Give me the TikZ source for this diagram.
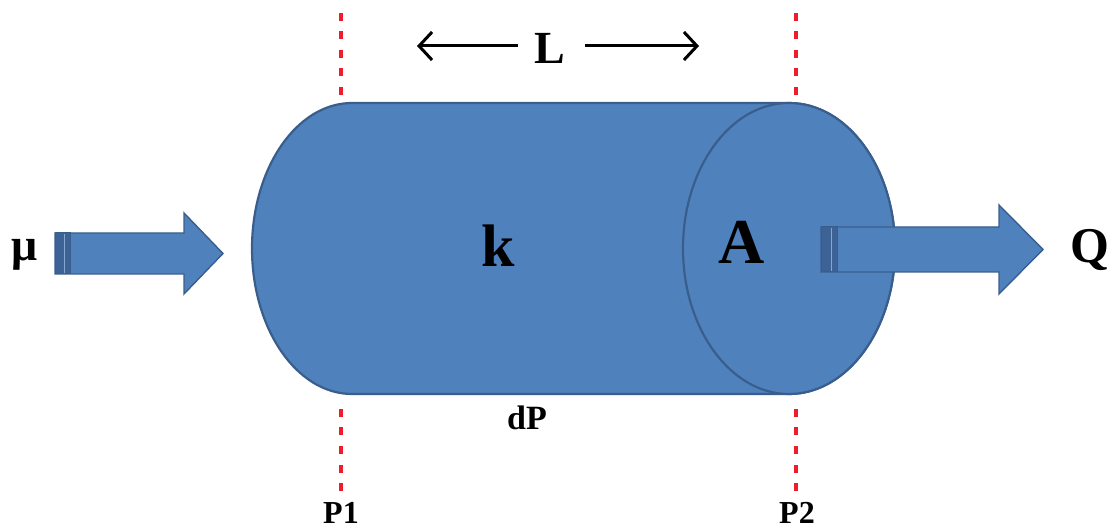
\documentclass[tikz,border=0pt]{standalone}
\usepackage{fontspec}
\setmainfont{Liberation Serif}
\usetikzlibrary{arrows.meta}
\definecolor{pipefill}{HTML}{4F81BD}
\definecolor{pipeedge}{HTML}{3A5E8C}
\definecolor{tailband}{HTML}{3D6396}
\definecolor{cutred}{HTML}{F01C2C}
\tikzset{
  body/.style={fill=pipefill, draw=pipeedge, line width=2.2pt, line join=round},
  blockarrow/.style={fill=pipefill, draw=pipeedge, line width=1.4pt, line join=miter},
  tailstrip/.style={fill=tailband, draw=pipeedge, line width=1pt},
  cutline/.style={draw=cutred, line width=3.6pt, dash pattern=on 8pt off 10.5pt},
  lbl/.style={font=\bfseries\fontsize{#1}{#1}\selectfont, text=black, inner sep=0pt},
  dimline/.style={draw=black, line width=3pt, -{Straight Barb[length=13pt,width=28pt,line width=3pt]}}
}
\begin{document}
\begin{tikzpicture}[x=1pt,y=-1pt]
\useasboundingbox (0,0) rectangle (1112,529);

% pipe body: left rounded cap, straight sides, right end face
% (y axis points down, so angle -90 is the top of an ellipse)
\path[body] (352,103) -- (789,103)
  arc[start angle=-90, end angle=90, x radius=106, y radius=145.5]
  -- (352,394)
  arc[start angle=90, end angle=270, x radius=100, y radius=145.5] -- cycle;
\path[body] (789,248.5) ellipse[x radius=106, y radius=145.5];

% section marks
\draw[cutline] (341,13) -- (341,96);
\draw[cutline] (341,409) -- (341,492);
\draw[cutline] (796,13) -- (796,96);
\draw[cutline] (796,409) -- (796,492);

% inflow arrow
\path[blockarrow] (55,233) -- (184,233) -- (184,213) -- (223,253.5) -- (184,294) -- (184,274) -- (55,274) -- cycle;
\path[tailstrip] (55,233) rectangle (70,274);
\draw[pipefill!70!white, line width=1pt] (64,234) -- (64,273);

% outflow arrow
\path[blockarrow] (821,227) -- (999,227) -- (999,205) -- (1043,249.5) -- (999,294) -- (999,272) -- (821,272) -- cycle;
\path[tailstrip] (821,227) rectangle (837,272);
\draw[pipefill!70!white, line width=1pt] (831,228) -- (831,271);

% labels
\node[lbl=60pt] (k) at (498,246) {k};
\node[lbl=64pt] (A) at (742,242) {A};
\node[lbl=46pt] (L) at (550,48) {L};
\node[lbl=34pt, anchor=base] (dP) at (527,429) {dP};
\node[lbl=32pt, anchor=base] (P1) at (341,523) {P1};
\node[lbl=32pt, anchor=base] (P2) at (797,523) {P2};
\node[lbl=46pt, anchor=base] (mu) at (25,261) {μ};
\node[lbl=50pt] (Q) at (1090,250) {Q};

% length dimension
\coordinate (Lleft) at (417,46);
\coordinate (Lright) at (699,46);
\draw[dimline] (518,46) -- (Lleft);
\draw[dimline] (585,46) -- (Lright);
\end{tikzpicture}
\end{document}
